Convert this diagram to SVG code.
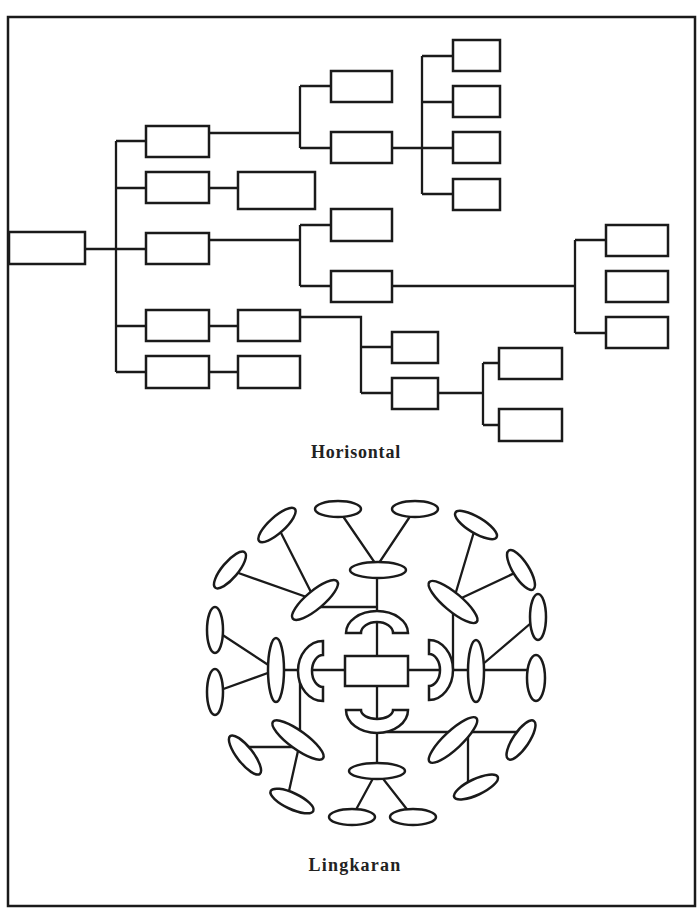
<svg xmlns="http://www.w3.org/2000/svg" width="700" height="911" viewBox="0 0 700 911">
<style>
.b{fill:#fff;stroke:#1a1a1a;stroke-width:2.5}
.c{fill:none;stroke:#1a1a1a;stroke-width:2.3}
.t{font-family:"Liberation Serif",serif;font-weight:bold;font-size:18px;fill:#222;text-anchor:middle}
</style>
<rect x="0" y="0" width="700" height="911" fill="#fff"/>
<rect x="8" y="17" width="687" height="889" fill="none" stroke="#1a1a1a" stroke-width="2.5"/>
<g id="connectors-tree" class="c">
<path d="M85,249H116M116,141V372M116,141H146M116,188H146M116,249H146M116,326H146M116,372H146"/>
<path d="M209,188H238M209,326H238M209,372H238"/>
<path d="M209,133H300M300,86V148M300,86H331M300,148H331"/>
<path d="M392,148H422M422,56V194M422,56H453M422,102H453M422,148H453M422,194H453"/>
<path d="M209,240H300M300,225V286M300,225H331M300,286H331"/>
<path d="M392,286H575M575,240V333M575,240H606M575,333H606"/>
<path d="M300,317H361V393M361,347H392M361,393H392"/>
<path d="M438,393H483M483,363V425M483,363H499M483,425H499"/>
</g>
<g id="tree-nodes" class="b">
<rect id="root" x="9" y="232" width="76" height="32"/>
<rect id="a" x="146" y="126" width="63" height="31"/>
<rect id="b" x="146" y="172" width="63" height="31"/>
<rect id="c" x="146" y="233" width="63" height="31"/>
<rect id="d" x="146" y="310" width="63" height="31"/>
<rect id="e" x="146" y="356" width="63" height="32"/>
<rect id="b1" x="238" y="172" width="77" height="37"/>
<rect id="d1" x="238" y="310" width="62" height="31"/>
<rect id="e1" x="238" y="356" width="62" height="32"/>
<rect id="a1" x="331" y="71" width="61" height="31"/>
<rect id="a2" x="331" y="132" width="61" height="31"/>
<rect id="a21" x="453" y="40" width="47" height="31"/>
<rect id="a22" x="453" y="86" width="47" height="31"/>
<rect id="a23" x="453" y="132" width="47" height="31"/>
<rect id="a24" x="453" y="179" width="47" height="31"/>
<rect id="c1" x="331" y="209" width="61" height="32"/>
<rect id="c2" x="331" y="271" width="61" height="31"/>
<rect id="c21" x="606" y="225" width="62" height="31"/>
<rect id="c22" x="606" y="271" width="62" height="31"/>
<rect id="c23" x="606" y="317" width="62" height="31"/>
<rect id="d11" x="392" y="332" width="46" height="31"/>
<rect id="d12" x="392" y="378" width="46" height="31"/>
<rect id="d121" x="499" y="348" width="63" height="31"/>
<rect id="d122" x="499" y="409" width="63" height="32"/>
</g>
<text class="t" x="356" y="458" letter-spacing="0.8">Horisontal</text>
<g id="connectors-circle" class="c">
<path d="M377,570V771"/>
<path d="M338,509L377,566L415,509"/>
<path d="M277,525L315,600M230,570L315,600M315,607H377"/>
<path d="M476,525L453,602M521,570L453,602M453,602V670"/>
<path d="M276,670H536M476,670L538,617"/>
<path d="M215,630L276,670M215,692L276,670"/>
<path d="M300,670V740M248,747H298M300,742L287,800"/>
<path d="M352,817L377,771L413,817"/>
<path d="M377,732H521M468,732V782"/>
</g>
<g id="circle-nodes" class="b">
<ellipse id="e-top" cx="378" cy="570" rx="28" ry="8"/>
<ellipse cx="338" cy="509" rx="23" ry="8"/>
<ellipse cx="415" cy="509" rx="23" ry="8"/>
<ellipse cx="277" cy="525" rx="24" ry="8" transform="rotate(-42 277 525)"/>
<ellipse cx="230" cy="570" rx="23" ry="8" transform="rotate(-50 230 570)"/>
<ellipse id="e-ul" cx="315" cy="600" rx="29" ry="9" transform="rotate(-40 315 600)"/>
<ellipse cx="476" cy="525" rx="24" ry="8" transform="rotate(31 476 525)"/>
<ellipse cx="521" cy="570" rx="23" ry="8" transform="rotate(58 521 570)"/>
<ellipse id="e-ur" cx="453" cy="602" rx="31" ry="9" transform="rotate(40 453 602)"/>
<ellipse cx="538" cy="617" rx="8" ry="23"/>
<ellipse id="e-r" cx="476" cy="671" rx="8" ry="31"/>
<ellipse cx="536" cy="678" rx="9" ry="23"/>
<ellipse cx="215" cy="630" rx="8" ry="23"/>
<ellipse cx="215" cy="692" rx="8" ry="23"/>
<ellipse id="e-l" cx="276" cy="670" rx="8" ry="32"/>
<ellipse id="e-ll" cx="298" cy="740" rx="31" ry="9" transform="rotate(36 298 740)"/>
<ellipse cx="245" cy="755" rx="24" ry="8" transform="rotate(52 245 755)"/>
<ellipse cx="292" cy="801" rx="23.5" ry="8" transform="rotate(25 292 801)"/>
<ellipse id="e-bot" cx="377" cy="771" rx="28" ry="8"/>
<ellipse cx="352" cy="817" rx="23" ry="8"/>
<ellipse cx="413" cy="817" rx="23" ry="8"/>
<ellipse id="e-lr" cx="453" cy="740" rx="32" ry="9" transform="rotate(-43 453 740)"/>
<ellipse cx="521" cy="740" rx="23" ry="8" transform="rotate(-56 521 740)"/>
<ellipse cx="476" cy="787" rx="24" ry="8" transform="rotate(-25 476 787)"/>
<path id="arc-top" d="M346,633A31,22 0 0 1 408,633L393,633A16,11 0 0 0 361,633Z"/>
<path id="arc-bot" d="M346,710A31,23 0 0 0 408,710L393,710A16,9 0 0 1 361,710Z"/>
<path id="arc-left" d="M323,641A25,30 0 0 0 323,701L323,687A11,16 0 0 1 323,655Z"/>
<path id="arc-right" d="M429,640A24,30 0 0 1 429,700L429,686A11,16 0 0 0 429,654Z"/>
<rect id="center" x="345" y="656" width="63" height="30"/>
</g>
<text class="t" x="355" y="871" letter-spacing="1.2">Lingkaran</text>
</svg>
